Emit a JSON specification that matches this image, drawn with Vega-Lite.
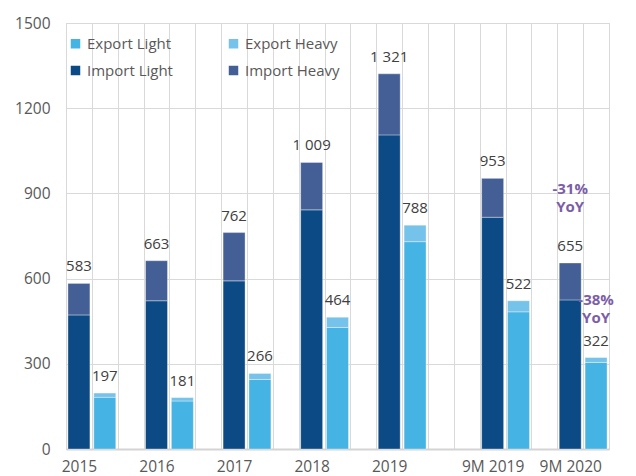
{
  "$schema": "https://vega.github.io/schema/vega-lite/v6.json",
  "width": 543,
  "height": 426,
  "autosize": {"type": "none"},
  "padding": {"left": 66, "top": 23, "right": 27, "bottom": 27},
  "config": {
    "view": {"stroke": "#d9d9d9", "strokeWidth": 1},
    "font": "Open Sans",
    "axis": {"gridColor": "#d9d9d9", "gridWidth": 1, "labelFont": "Open Sans", "labelFontSize": 15.5, "labelColor": "#595959", "ticks": false, "title": null}
  },
  "datasets": {
    "bars": [
      {"slot": "2015|I", "series": "Import Light", "weight": "Light", "value": 472},
      {"slot": "2015|I", "series": "Import Heavy", "weight": "Heavy", "value": 111},
      {"slot": "2015|E", "series": "Export Light", "weight": "Light", "value": 182},
      {"slot": "2015|E", "series": "Export Heavy", "weight": "Heavy", "value": 15},
      {"slot": "2016|I", "series": "Import Light", "weight": "Light", "value": 522},
      {"slot": "2016|I", "series": "Import Heavy", "weight": "Heavy", "value": 141},
      {"slot": "2016|E", "series": "Export Light", "weight": "Light", "value": 169},
      {"slot": "2016|E", "series": "Export Heavy", "weight": "Heavy", "value": 12},
      {"slot": "2017|I", "series": "Import Light", "weight": "Light", "value": 592},
      {"slot": "2017|I", "series": "Import Heavy", "weight": "Heavy", "value": 170},
      {"slot": "2017|E", "series": "Export Light", "weight": "Light", "value": 245},
      {"slot": "2017|E", "series": "Export Heavy", "weight": "Heavy", "value": 21},
      {"slot": "2018|I", "series": "Import Light", "weight": "Light", "value": 842},
      {"slot": "2018|I", "series": "Import Heavy", "weight": "Heavy", "value": 167},
      {"slot": "2018|E", "series": "Export Light", "weight": "Light", "value": 428},
      {"slot": "2018|E", "series": "Export Heavy", "weight": "Heavy", "value": 36},
      {"slot": "2019|I", "series": "Import Light", "weight": "Light", "value": 1106},
      {"slot": "2019|I", "series": "Import Heavy", "weight": "Heavy", "value": 215},
      {"slot": "2019|E", "series": "Export Light", "weight": "Light", "value": 730},
      {"slot": "2019|E", "series": "Export Heavy", "weight": "Heavy", "value": 58},
      {"slot": "9M 2019|I", "series": "Import Light", "weight": "Light", "value": 816},
      {"slot": "9M 2019|I", "series": "Import Heavy", "weight": "Heavy", "value": 137},
      {"slot": "9M 2019|E", "series": "Export Light", "weight": "Light", "value": 483},
      {"slot": "9M 2019|E", "series": "Export Heavy", "weight": "Heavy", "value": 39},
      {"slot": "9M 2020|I", "series": "Import Light", "weight": "Light", "value": 525},
      {"slot": "9M 2020|I", "series": "Import Heavy", "weight": "Heavy", "value": 130},
      {"slot": "9M 2020|E", "series": "Export Light", "weight": "Light", "value": 305},
      {"slot": "9M 2020|E", "series": "Export Heavy", "weight": "Heavy", "value": 17}
    ],
    "totals": [
      {"slot": "2015|I", "total": 583, "label": "583"},
      {"slot": "2015|E", "total": 197, "label": "197"},
      {"slot": "2016|I", "total": 663, "label": "663"},
      {"slot": "2016|E", "total": 181, "label": "181"},
      {"slot": "2017|I", "total": 762, "label": "762"},
      {"slot": "2017|E", "total": 266, "label": "266"},
      {"slot": "2018|I", "total": 1009, "label": "1 009"},
      {"slot": "2018|E", "total": 464, "label": "464"},
      {"slot": "2019|I", "total": 1321, "label": "1 321"},
      {"slot": "2019|E", "total": 788, "label": "788"},
      {"slot": "9M 2019|I", "total": 953, "label": "953"},
      {"slot": "9M 2019|E", "total": 522, "label": "522"},
      {"slot": "9M 2020|I", "total": 655, "label": "655"},
      {"slot": "9M 2020|E", "total": 322, "label": "322"}
    ],
    "notes": [
      {"slot": "9M 2020|I", "pos": 916, "note": "-31%"},
      {"slot": "9M 2020|I", "pos": 852, "note": "YoY"},
      {"slot": "9M 2020|E", "pos": 526, "note": "-38%"},
      {"slot": "9M 2020|E", "pos": 462, "note": "YoY"}
    ]
  },
  "layer": [
    {
      "data": {"name": "bars"},
      "mark": {"type": "bar", "width": {"band": 0.85}, "stroke": "#ffffff", "strokeOpacity": 0.35, "strokeWidth": 1},
      "encoding": {
        "x": {
          "field": "slot", "type": "nominal",
          "scale": {"domain": ["2015|I","2015|E","2015|g","2016|I","2016|E","2016|g","2017|I","2017|E","2017|g","2018|I","2018|E","2018|g","2019|I","2019|E","2019|g","gap|g","9M 2019|I","9M 2019|E","9M 2019|g","9M 2020|I","9M 2020|E"], "paddingInner": 0, "paddingOuter": 0},
          "axis": {
            "grid": true, "tickBand": "extent", "labelAngle": 0, "labelPadding": 10, "labelOverlap": false,
            "labelExpr": "split(datum.value, '|')[1] == 'I' ? split(datum.value, '|')[0] : ''",
            "domain": true, "domainColor": "#d4d4d4", "domainWidth": 2
          }
        },
        "y": {
          "field": "value", "type": "quantitative", "stack": "zero",
          "scale": {"domain": [0, 1500], "nice": false},
          "axis": {"values": [0, 300, 600, 900, 1200, 1500], "format": "d", "grid": true, "domain": false, "labelPadding": 16}
        },
        "color": {
          "field": "series", "type": "nominal",
          "scale": {"domain": ["Export Light", "Import Light", "Export Heavy", "Import Heavy"], "range": ["#45b3e3", "#0c4a85", "#75c2ea", "#445f96"]},
          "legend": {
            "orient": "none", "legendX": 2, "legendY": 13, "columns": 2, "title": null,
            "symbolType": "square", "symbolSize": 90, "symbolStrokeWidth": 0,
            "labelFont": "Open Sans", "labelFontSize": 15, "labelColor": "#595959", "labelOffset": 4,
            "rowPadding": 11, "columnPadding": 53
          }
        },
        "order": {"field": "weight", "sort": "descending"}
      }
    },
    {
      "data": {"name": "totals"},
      "mark": {"type": "text", "baseline": "alphabetic", "dy": -12, "fontSize": 15, "color": "#404040", "font": "Open Sans"},
      "encoding": {
        "x": {"field": "slot", "type": "nominal"},
        "y": {"field": "total", "type": "quantitative"},
        "text": {"field": "label"}
      }
    },
    {
      "data": {"name": "notes"},
      "mark": {"type": "text", "baseline": "middle", "fontSize": 15, "fontWeight": "bold", "color": "#7b5ea7", "font": "Open Sans"},
      "encoding": {
        "x": {"field": "slot", "type": "nominal"},
        "y": {"field": "pos", "type": "quantitative"},
        "text": {"field": "note"}
      }
    }
  ]
}
